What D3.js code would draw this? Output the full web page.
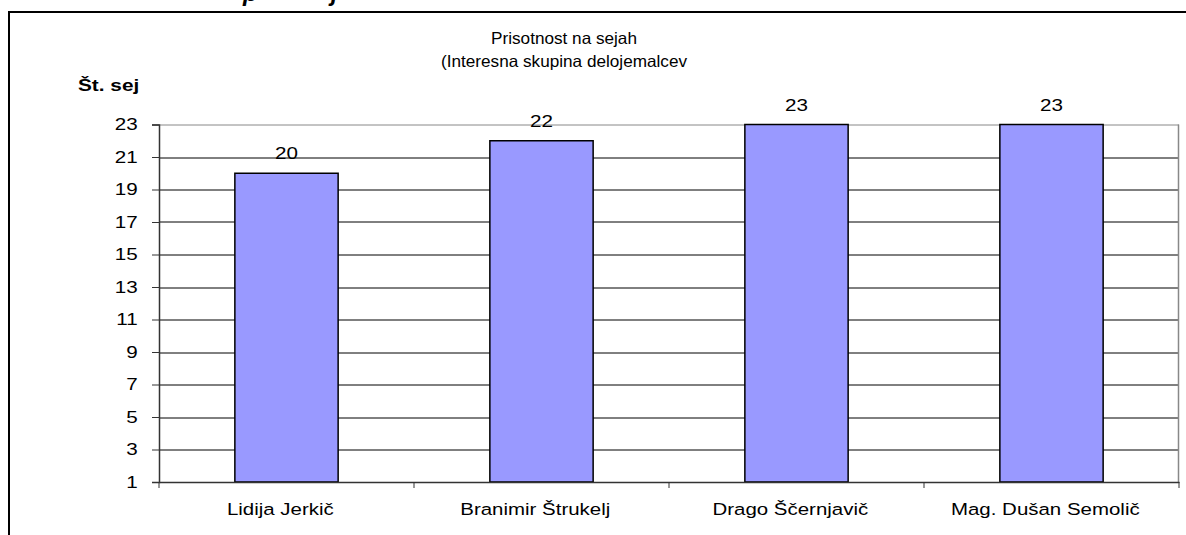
<!DOCTYPE html>
<html>
<head>
<meta charset="utf-8">
<script src="https://cdn.jsdelivr.net/npm/d3@7"></script>
<style>
  body { margin: 0; background: #fff; }
  text { font-family: "Liberation Sans", Arial, sans-serif; fill: #000; }
</style>
</head>
<body>
<div id="chart"></div>
<script>
const categories = ["Lidija Jerkič", "Branimir Štrukelj", "Drago Ščernjavič", "Mag. Dušan Semolič"];
const values = [20, 22, 23, 23];
const yTicks = [1, 3, 5, 7, 9, 11, 13, 15, 17, 19, 21, 23];
const titleLines = ["Prisotnost na sejah", "(Interesna skupina delojemalcev"];
const yLabel = "Št. sej";

let W = 1186, H = 535;
let margin = {top: 124.5, right: 7, bottom: 53, left: 159};
let width = W - margin.left - margin.right,
    height = H - margin.top - margin.bottom;

// the source picture is a bit wider than tall, so text gets stretched
let stretch = (sel, sx, x, y) => sel.attr("transform", `translate(${x},${y}) scale(${sx},1)`);

let svg = d3.select("#chart")
    .append("svg")
        .attr("width", W)
        .attr("height", H);

// outer frame (runs off the right and bottom edge)
svg.append("rect")
    .attr("x", 9).attr("y", 12)
    .attr("width", 1300).attr("height", 700)
    .attr("fill", "none")
    .attr("stroke", "#000")
    .attr("stroke-width", 2);

// descenders of the heading above the frame
svg.append("text").attr("x", 243).attr("y", 1)
    .attr("font-size", 24).attr("font-weight", "bold").attr("font-style", "italic")
    .text("p");
svg.append("text").attr("x", 331).attr("y", 1)
    .attr("font-size", 24).attr("font-weight", "bold").attr("font-style", "italic")
    .text("j");

// title
svg.append("g")
    .selectAll("text")
    .data(titleLines)
    .enter()
    .append("text")
        .attr("text-anchor", "middle")
        .attr("font-size", 16.5)
        .each(function(d, i) { stretch(d3.select(this), 1.04, 564, 44 + i * 22.5); })
        .text(d => d);

stretch(svg.append("text"), 1.3, 78, 91)
    .attr("font-size", 16).attr("font-weight", "bold")
    .text(yLabel);

let g = svg.append("g")
    .attr("transform", `translate(${margin.left},${margin.top})`);

let x = d3.scaleBand()
    .domain(categories)
    .range([0, width])
    .padding(0);

let y = d3.scaleLinear()
    .domain([1, 23])
    .range([height, 0]);

// gridlines
g.append("g")
    .selectAll("line")
    .data(yTicks.slice(1))
    .enter()
    .append("line")
        .attr("x1", 0).attr("x2", width)
        .attr("y1", d => Math.round(y(d)) + 0.5)
        .attr("y2", d => Math.round(y(d)) + 0.5)
        .attr("stroke", d => d === 23 ? "#888" : "#000")
        .attr("stroke-width", 1);

// right border of plot area
g.append("line")
    .attr("x1", width - 0.5).attr("x2", width - 0.5)
    .attr("y1", y(23)).attr("y2", height)
    .attr("stroke", "#888").attr("stroke-width", 1.5);

// bars
let barW = x.bandwidth() * 0.405;
g.append("g")
    .selectAll("rect")
    .data(values)
    .enter()
    .append("rect")
        .attr("x", (d, i) => x(categories[i]) + (x.bandwidth() - barW) / 2)
        .attr("y", d => y(d))
        .attr("width", barW)
        .attr("height", d => height - y(d))
        .attr("fill", "#9999ff")
        .attr("stroke", "#000")
        .attr("stroke-width", 1.5);

// value labels
g.append("g")
    .selectAll("text")
    .data(values)
    .enter()
    .append("text")
        .attr("text-anchor", "middle")
        .attr("font-size", 16.5)
        .each(function(d, i) {
            stretch(d3.select(this), 1.25, x(categories[i]) + x.bandwidth() / 2, y(d) - 14);
        })
        .text(d => d);

// y axis
let yAxis = g.append("g")
    .call(d3.axisLeft(y).tickValues(yTicks).tickSize(7));
yAxis.select(".domain").attr("stroke", "#333").attr("stroke-width", 1.5);
yAxis.selectAll(".tick line").attr("stroke", "#333");
yAxis.selectAll(".tick text")
    .attr("font-family", "Liberation Sans, Arial, sans-serif")
    .attr("font-size", 16.5)
    .attr("fill", "#000")
    .attr("x", -17)
    .attr("transform", "scale(1.25,1)");

// x axis, ticks at category boundaries
let xAxis = g.append("g")
    .attr("transform", `translate(0,${height})`)
    .call(d3.axisBottom(x).tickSize(0));
xAxis.select(".domain").attr("stroke", "#333").attr("stroke-width", 1.5);
xAxis.selectAll(".tick text")
    .attr("font-family", "Liberation Sans, Arial, sans-serif")
    .attr("font-size", 16.5)
    .attr("fill", "#000")
    .attr("x", -5)
    .attr("y", 33)
    .attr("dy", 0)
    .attr("transform", "scale(1.24,1)");
xAxis.append("g")
    .selectAll("line")
    .data(d3.range(categories.length + 1))
    .enter()
    .append("line")
        .attr("x1", i => i * x.step())
        .attr("x2", i => i * x.step())
        .attr("y1", 0).attr("y2", 6)
        .attr("stroke", "#333");
</script>
</body>
</html>
